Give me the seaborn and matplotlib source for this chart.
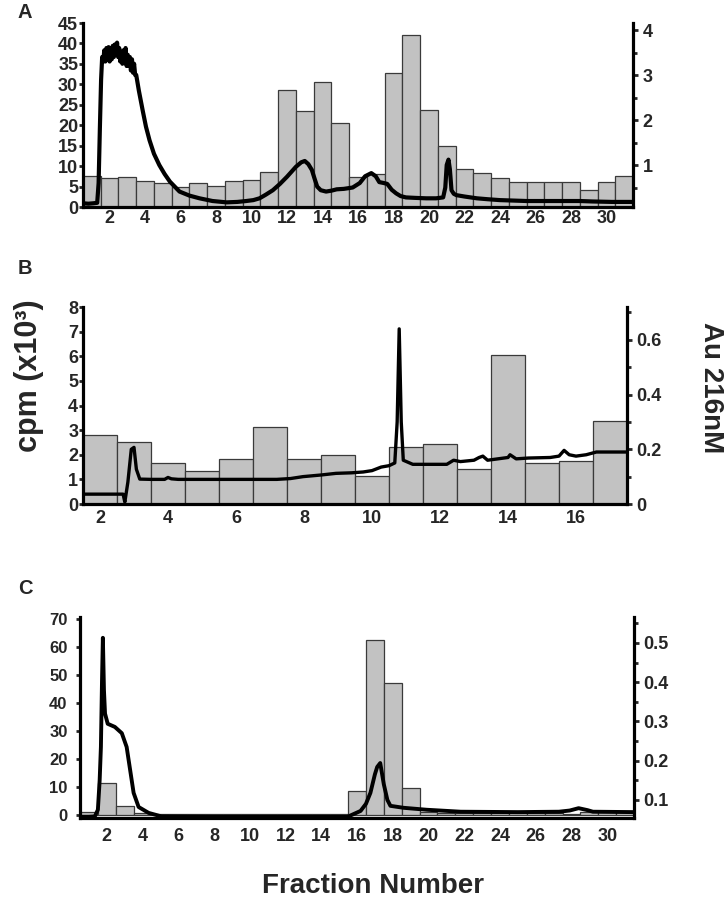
import matplotlib
matplotlib.use("Agg")
import matplotlib.pyplot as plt
import seaborn as sns
import pandas as pd
from matplotlib.ticker import MultipleLocator

sns.set_style("ticks")
plt.rcParams["font.family"] = ["Liberation Sans", "DejaVu Sans"]
plt.rcParams["font.weight"] = "bold"

# ---------------- Panel A ----------------
A_frac = list(range(1, 32))
A_cpm = [7.5, 7.2, 7.4, 6.3, 5.8, 5.0, 5.9, 5.2, 6.3, 6.5, 8.6, 28.7, 23.4, 30.6, 20.6,
         7.4, 8.0, 32.8, 42.0, 23.7, 14.9, 9.3, 8.3, 7.1, 6.1, 6.1, 6.1, 6.1, 4.2, 6.1, 7.6]
A_au_x = [0.5, 0.8, 1.1, 1.3, 1.38, 1.45, 1.52, 1.58, 1.64, 1.70, 1.76, 1.82, 1.88, 1.94,
          2.0, 2.06, 2.12, 2.18, 2.24, 2.30, 2.36, 2.42, 2.48, 2.54, 2.60, 2.66, 2.72, 2.78,
          2.84, 2.90, 2.96, 3.02, 3.08, 3.14, 3.20, 3.26, 3.32, 3.38, 3.44, 3.5, 3.65, 3.87,
          4.05, 4.25, 4.5, 4.8, 5.1, 5.4, 5.94, 6.5, 7.07, 7.8, 8.6, 9.2, 9.7, 10.1, 10.45,
          10.8, 11.2, 11.6, 12.0, 12.5, 12.8, 13.0, 13.2, 13.4, 13.55, 13.7, 13.9, 14.2, 14.5,
          14.8, 15.2, 15.7, 16.1, 16.4, 16.75, 17.0, 17.2, 17.45, 17.65, 17.9, 18.15, 18.4,
          18.7, 19.2, 19.85, 20.4, 20.8, 20.92, 21.0, 21.1, 21.18, 21.27, 21.4, 21.55, 22.0,
          22.7, 23.3, 24.0, 25.5, 26.5, 27.7, 28.5, 29.2, 30.3, 31.5]
A_au_y = [0.15, 0.14, 0.15, 0.16, 0.6, 1.8, 2.9, 3.4, 3.3, 3.55, 3.3, 3.6, 3.35, 3.62,
          3.3, 3.6, 3.35, 3.65, 3.4, 3.68, 3.45, 3.72, 3.4, 3.6, 3.3, 3.5, 3.25, 3.55,
          3.3, 3.6, 3.2, 3.45, 3.2, 3.4, 3.1, 3.35, 3.05, 3.25, 3.0, 3.0, 2.65, 2.2,
          1.85, 1.55, 1.25, 1.0, 0.8, 0.63, 0.41, 0.32, 0.26, 0.2, 0.17, 0.18, 0.2, 0.22, 0.26,
          0.34, 0.44, 0.58, 0.74, 0.96, 1.06, 1.09, 1.02, 0.89, 0.7, 0.52, 0.44, 0.41, 0.43,
          0.46, 0.47, 0.5, 0.6, 0.75, 0.82, 0.75, 0.62, 0.6, 0.58, 0.45, 0.37, 0.31,
          0.28, 0.27, 0.26, 0.26, 0.28, 0.5, 1.0, 1.12, 0.9, 0.44, 0.36, 0.33, 0.3,
          0.26, 0.24, 0.22, 0.2, 0.2, 0.2, 0.2, 0.19, 0.18, 0.18]

# ---------------- Panel B ----------------
B_frac = list(range(2, 18))
B_cpm = [2.8, 2.52, 1.65, 1.34, 1.83, 3.13, 1.83, 2.0, 1.14, 2.32, 2.44, 1.42, 6.06, 1.66, 1.75, 3.37]
B_au_x = [1.5, 2.0, 2.5, 2.68, 2.73, 2.82, 2.92, 3.0, 3.07, 3.17, 3.5, 3.9, 4.0, 4.1, 4.3,
          5.0, 6.0, 7.2, 7.6, 7.97, 8.5, 8.94, 9.4, 9.74, 10.0, 10.27, 10.5, 10.67, 10.74, 10.8,
          10.86, 10.92, 11.2, 11.7, 12.2, 12.4, 12.6, 13.0, 13.15, 13.26, 13.4, 13.7, 14.0, 14.06,
          14.24, 14.6, 15.24, 15.5, 15.65, 15.8, 16.0, 16.3, 16.6, 17.0, 17.5]
B_au_y = [0.036, 0.036, 0.036, 0.036, 0.007, 0.08, 0.2, 0.207, 0.127, 0.091, 0.09, 0.09, 0.097, 0.092, 0.09,
          0.09, 0.09, 0.09, 0.093, 0.1, 0.106, 0.112, 0.114, 0.117, 0.122, 0.135, 0.14, 0.15, 0.3, 0.64,
          0.3, 0.16, 0.145, 0.145, 0.145, 0.16, 0.155, 0.16, 0.17, 0.175, 0.16, 0.165, 0.17, 0.18,
          0.165, 0.168, 0.17, 0.175, 0.196, 0.18, 0.175, 0.18, 0.19, 0.19, 0.19]

# ---------------- Panel C ----------------
C_frac = list(range(1, 32))
C_cpm = [1.2, 11.5, 3.2, 0.8, 0.3, 0.3, 0.3, 0.3, 0.3, 0.3, 0.3, 0.3, 0.3, 0.3, 0.3,
         8.5, 62.5, 47.0, 9.6, 0.9, 0.8, 0.7, 0.7, 0.7, 0.7, 0.7, 0.7, 0.3, 1.0, 1.0, 1.0]
C_au_x = [0.5, 1.0, 1.33, 1.5, 1.6, 1.67, 1.73, 1.78, 1.84, 1.9, 2.05, 2.45, 2.84, 3.11, 3.28,
          3.5, 3.78, 4.34, 5.06, 8.0, 12.0, 15.47, 16.2, 16.5, 16.75, 17.0, 17.13, 17.3, 17.5, 17.7,
          17.87, 18.6, 19.9, 21.8, 25.0, 27.3, 27.9, 28.4, 28.9, 29.2, 31.5]
C_au_y = [0.057, 0.057, 0.058, 0.075, 0.15, 0.235, 0.4, 0.513, 0.38, 0.32, 0.294, 0.286, 0.27, 0.235, 0.184,
          0.118, 0.082, 0.067, 0.058, 0.057, 0.057, 0.057, 0.072, 0.09, 0.118, 0.165, 0.184, 0.194, 0.14, 0.1,
          0.085, 0.08, 0.075, 0.07, 0.069, 0.07, 0.073, 0.079, 0.074, 0.07, 0.069]

W, H = 725, 899
fig = plt.figure(figsize=(W / 100, H / 100), dpi=100)

BAR_COLOR = "#c2c2c2"
EDGE = "#3a3a3a"
SPINE_W = 2.3
TICK_FS = 13


def make_panel(rect, frac, cpm, lx, ly, xlim, ylim_l, ylim_r, yl_step, xt,
               r_major, r_minor, r_labels_from, lfs, lpad, xpad, line_w):
    left, top, right, bottom = rect
    ax = fig.add_axes([left / W, 1 - bottom / H, (right - left) / W, (bottom - top) / H])
    df = pd.DataFrame({"frac": frac, "cpm": cpm})
    sns.barplot(data=df, x="frac", y="cpm", ax=ax, native_scale=True, width=1.0,
                color=BAR_COLOR, saturation=1, edgecolor=EDGE, linewidth=0.9)
    ax.set_xlim(*xlim)
    ax.set_ylim(*ylim_l)
    ax.set_xlabel("")
    ax.set_ylabel("")
    ax.yaxis.set_major_locator(MultipleLocator(yl_step))
    ax.set_xticks(xt)
    ax.set_xticklabels([str(v) for v in xt])
    ax.tick_params(axis="x", length=0, pad=xpad, labelsize=TICK_FS)
    ax.tick_params(axis="y", length=3, width=2, pad=lpad, labelsize=lfs, direction="out")
    for s in ["top", "right"]:
        ax.spines[s].set_visible(False)
    for s in ["left", "bottom"]:
        ax.spines[s].set_linewidth(SPINE_W)
        ax.spines[s].set_color("black")

    ax2 = ax.twinx()
    dl = pd.DataFrame({"x": lx, "y": ly})
    sns.lineplot(data=dl, x="x", y="y", ax=ax2, color="black", linewidth=line_w,
                 estimator=None, sort=False)
    ax2.set_ylim(*ylim_r)
    ax2.set_xlim(*xlim)
    ax2.set_ylabel("")
    ax2.set_xlabel("")
    ax2.yaxis.set_major_locator(MultipleLocator(r_major))
    ax2.yaxis.set_minor_locator(MultipleLocator(r_minor))
    ax2.yaxis.set_major_formatter(
        matplotlib.ticker.FuncFormatter(
            lambda v, p: ("" if v < r_labels_from - 1e-9 else ("%g" % round(v, 3)))))
    ax2.tick_params(axis="y", which="major", length=3.5, width=2, pad=3.5, labelsize=TICK_FS)
    ax2.tick_params(axis="y", which="minor", length=3, width=2)
    for s in ["top", "left", "bottom"]:
        ax2.spines[s].set_visible(False)
    ax2.spines["right"].set_linewidth(SPINE_W)
    ax2.spines["right"].set_color("black")
    for lab in ax.get_xticklabels() + ax.get_yticklabels() + ax2.get_yticklabels():
        lab.set_fontweight("bold")
    return ax, ax2


# Panel A
make_panel((83, 23, 633, 207), A_frac, A_cpm, A_au_x, A_au_y,
           (0.5, 31.5), (0, 45), (0.067, 4.156), 5, list(range(2, 31, 2)),
           1, 0.5, 1, TICK_FS, 0.5, 2, 3.0)

# Panel B
make_panel((83, 307, 627, 504), B_frac, B_cpm, B_au_x, B_au_y,
           (1.5, 17.5), (0, 8), (0, 0.72), 1, list(range(2, 17, 2)),
           0.2, 0.1, 0, TICK_FS, 0.5, 4, 2.4)

# Panel C
make_panel((80, 617, 634, 818), C_frac, C_cpm, C_au_x, C_au_y,
           (0.5, 31.5), (-1.1, 70.7), (0.054, 0.566), 10, list(range(2, 31, 2)),
           0.1, 0.05, 0.1, 12, 6, 7, 2.8)

# Labels
fig.text(25 / W, 1 - 13 / H, "A", ha="center", va="center", fontsize=14.5, fontweight="bold")
fig.text(25 / W, 1 - 269 / H, "B", ha="center", va="center", fontsize=14.5, fontweight="bold")
fig.text(25 / W, 1 - 588 / H, "C", ha="center", va="center", fontsize=14.5, fontweight="bold")
fig.text(29 / W, 1 - 376 / H, "cpm (x10³)", rotation=90, ha="center", va="center",
         fontsize=22, fontweight="bold")
fig.text(711 / W, 1 - 388 / H, "Au 216nM", rotation=270, ha="center", va="center",
         fontsize=20, fontweight="bold")
fig.text(373 / W, 1 - 886 / H, "Fraction Number", ha="center", va="center",
         fontsize=20, fontweight="bold")

fig.savefig("out.png", dpi=100)
